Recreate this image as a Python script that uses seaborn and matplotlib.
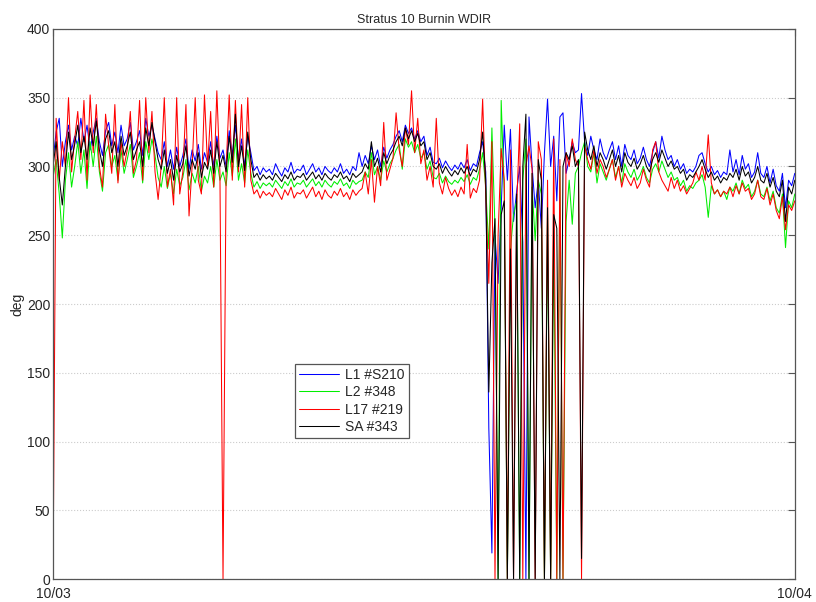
import numpy as np
import pandas as pd
import seaborn as sns
import matplotlib.pyplot as plt

# wind direction, one reading every 6 minutes from 10/03 00:00 to 10/04 00:00
# (each row of 10 values = one hour)
l1_s210 = [
    305, 325, 335, 300, 318, 330, 312, 322, 315, 335,
    318, 330, 312, 325, 335, 318, 308, 326, 332, 315,
    325, 310, 330, 315, 320, 332, 312, 318, 326, 308,
    335, 322, 330, 320, 310, 305, 318, 300, 312, 298,
    314, 300, 308, 320, 298, 312, 304, 316, 298, 310,
    303, 318, 300, 322, 306, 312, 300, 326, 308, 330,
    305, 320, 300, 322, 310, 297, 300, 294, 299, 296,
    298, 294, 302, 297, 293, 299, 296, 303, 295, 298,
    297, 301, 294, 298, 302, 296, 299, 294, 300, 297,
    295, 299, 296, 302, 295, 298, 294, 300, 297, 310,
    300, 308, 302, 315, 305, 312, 300, 314, 306, 312,
    316, 322, 326, 318, 330, 324, 328, 320, 326, 318,
    322, 308, 314, 303, 302, 306, 299, 304, 300, 297,
    301, 298, 303, 299, 305, 297, 302, 300, 310, 318,
    296, 110, 19, 250, 215, 270, 330, 290, 327, 260,
    282, 300, 245, 0, 336, 300, 270, 290, 255, 310,
    349, 300, 322, 275, 336, 339, 295, 305, 318, 310,
    312, 353, 318, 308, 322, 312, 305, 320, 310, 305,
    312, 318, 305, 315, 300, 316, 308, 305, 312, 302,
    306, 314, 305, 300, 310, 318, 306, 322, 312, 305,
    308, 300, 305, 298, 302, 295, 298, 296, 300, 308,
    310, 302, 296, 300, 294, 297, 292, 296, 294, 312,
    296, 305, 294, 308, 298, 302, 292, 296, 310, 295,
    292, 300, 288, 298, 286, 282, 295, 270, 290, 286,
    295,
]
l2_348 = [
    292, 305, 280, 248, 290, 310, 285, 300, 318, 295,
    312, 284, 318, 300, 322, 296, 282, 310, 316, 300,
    308, 290, 312, 295, 305, 316, 292, 300, 310, 288,
    318, 305, 320, 308, 292, 285, 300, 284, 295, 280,
    298, 286, 292, 305, 283, 295, 288, 300, 282, 293,
    288, 300, 285, 305, 290, 296, 286, 310, 293, 320,
    290, 302, 288, 312, 295, 285, 289, 284, 288, 286,
    288, 285, 290, 287, 284, 289, 286, 291, 285, 288,
    287, 290, 285, 288, 291, 286, 289, 285, 290, 287,
    285, 289, 287, 291, 286, 288, 284, 290, 287, 289,
    290, 296, 292, 310, 294, 300, 290, 304, 296, 302,
    306, 312, 316, 298, 320, 314, 318, 310, 316, 306,
    310, 298, 304, 292, 291, 295, 288, 293, 289, 287,
    290, 288, 292, 289, 294, 287, 292, 290, 298, 310,
    285, 240, 328, 255, 0, 348, 280, 0, 240, 265,
    275, 0, 290, 320, 0, 285, 246, 290, 280, 0,
    265, 0, 250, 0, 300, 0, 260, 290, 258, 295,
    300, 310, 318, 300, 296, 310, 288, 302, 296, 290,
    298, 305, 292, 300, 288, 302, 296, 292, 298, 290,
    294, 300, 292, 288, 298, 302, 296, 304, 298, 292,
    296, 290, 292, 286, 290, 282, 286, 284, 288, 290,
    294, 285, 263, 286, 280, 283, 278, 282, 276, 285,
    282, 288, 280, 290, 284, 287, 278, 282, 290, 280,
    278, 285, 275, 282, 270, 266, 280, 241, 275, 270,
    280,
]
l17_219 = [
    0, 335, 290, 318, 300, 350, 296, 320, 340, 305,
    348, 290, 352, 310, 345, 300, 285, 338, 315, 295,
    345, 288, 318, 300, 312, 340, 295, 305, 348, 290,
    350, 310, 340, 296, 276, 300, 350, 285, 298, 272,
    350, 280, 296, 345, 264, 300, 350, 290, 280, 352,
    300, 340, 285, 355, 295, 0, 298, 352, 290, 348,
    296, 345, 285, 350, 290, 280, 283, 277, 282, 279,
    281, 278, 284, 280, 276, 283, 279, 285, 277, 281,
    280, 283, 277, 281, 285, 278, 282, 276, 283, 279,
    277, 282, 279, 284, 278, 281, 276, 283, 279, 282,
    284, 296, 280, 305, 274, 300, 286, 332, 290, 298,
    306, 339, 312, 300, 328, 316, 355, 310, 335, 302,
    312, 290, 300, 285, 335, 288, 280, 292, 284, 279,
    283, 278, 285, 280, 316, 277, 284, 281, 290, 349,
    280, 215, 318, 0, 250, 313, 290, 0, 312, 0,
    270, 331, 0, 300, 315, 298, 0, 318, 305, 0,
    290, 0, 320, 0, 305, 0, 310, 300, 320, 305,
    300, 0, 315, 305, 298, 312, 295, 305, 300, 292,
    298, 305, 290, 300, 285, 295, 290, 286, 292, 284,
    288, 298, 290, 285, 312, 318, 296, 290, 286, 282,
    292, 284, 290, 282, 286, 280, 284, 288, 296, 290,
    300, 290, 323, 288, 280, 283, 278, 282, 280, 285,
    278, 286, 280, 288, 282, 284, 276, 280, 290, 278,
    276, 284, 272, 280, 268, 262, 278, 254, 272, 268,
    275,
]
sa_343 = [
    300, 318, 292, 272, 300, 325, 305, 316, 330, 310,
    322, 305, 328, 315, 333, 312, 300, 320, 326, 310,
    318, 300, 322, 308, 315, 325, 305, 312, 318, 300,
    328, 315, 332, 318, 305, 298, 312, 295, 305, 290,
    308, 296, 302, 315, 293, 305, 298, 310, 292, 303,
    298, 312, 295, 318, 300, 308, 296, 322, 303, 338,
    300, 315, 297, 325, 305, 292, 295, 290, 294, 291,
    293, 290, 295, 292, 289, 294, 291, 296, 290, 293,
    292, 295, 290, 293, 296, 291, 294, 290, 295, 292,
    290, 294, 292, 296, 291, 293, 289, 295, 292, 294,
    296, 302, 298, 318, 300, 306, 296, 310, 302, 308,
    312, 318, 322, 315, 328, 320, 326, 318, 324, 315,
    318, 305, 310, 300, 298, 302, 295, 300, 296, 293,
    297, 294, 299, 295, 300, 293, 298, 296, 305, 325,
    290, 136, 230, 262, 0, 265, 275, 0, 240, 0,
    280, 0, 300, 338, 0, 295, 0, 305, 290, 0,
    270, 0, 265, 255, 0, 300, 310, 305, 315, 300,
    305, 15, 325, 312, 305, 315, 300, 310, 305, 298,
    305, 312, 300, 308, 296, 310, 303, 300, 306, 298,
    302, 308, 300, 296, 305, 310, 303, 312, 306, 300,
    304, 298, 300, 295, 298, 290, 294, 292, 296, 300,
    305, 298, 292, 296, 290, 293, 288, 292, 290, 295,
    292, 298, 290, 300, 293, 296, 288, 292, 300, 290,
    288, 295, 285, 292, 282, 278, 290, 260, 285, 280,
    290,
]
series_names = ['L1 #S210', 'L2 #348', 'L17 #219', 'SA #343']
series_colors = ['blue', '#00ee00', 'red', 'black']
hours = np.arange(len(sa_343)) / 10.0

frames = []
for name, vals in zip(series_names, [l1_s210, l2_348, l17_219, sa_343]):
    frames.append(pd.DataFrame({'hour': hours, 'deg': vals, 'sensor': name}))
df = pd.concat(frames, ignore_index=True)

sns.set_style('white')
plt.rcParams['font.family'] = ['Liberation Sans', 'DejaVu Sans']

fig = plt.figure(figsize=(8.16, 6.02), dpi=100)
ax = fig.add_axes([0.065, 0.038, 0.909, 0.914])

sns.lineplot(data=df, x='hour', y='deg', hue='sensor', hue_order=series_names,
             palette=dict(zip(series_names, series_colors)), estimator=None,
             sort=False, linewidth=0.75, ax=ax)

ax.set_xlim(0, 24)
ax.set_ylim(0, 400)
ax.set_yticks(range(0, 401, 50))
ax.set_xticks([0, 24])
ax.set_xticklabels(['10/03', '10/04'])
ax.tick_params(direction='in', top=True, right=True, labelsize=10,
               color='#555555', length=5, pad=2)
ax.tick_params(axis='x', pad=6)
ax.yaxis.grid(True, linestyle=':', color='#cccccc', linewidth=0.8)
ax.set_axisbelow(True)
for s in ax.spines.values():
    s.set_color('#555555')
    s.set_linewidth(0.9)

ax.set_title('Stratus 10 Burnin WDIR', fontsize=9, pad=4.5)
ax.set_ylabel('deg', fontsize=10, labelpad=2)
ax.set_xlabel('')

leg = ax.legend(loc='lower left', bbox_to_anchor=(0.326, 0.256), fontsize=10,
                handlelength=2.9, handletextpad=0.4, labelspacing=0.25,
                borderpad=0.3, borderaxespad=0, fancybox=False, framealpha=1,
                edgecolor='#555555')
leg.get_frame().set_linewidth(0.9)

fig.savefig('out.png', dpi=100)
